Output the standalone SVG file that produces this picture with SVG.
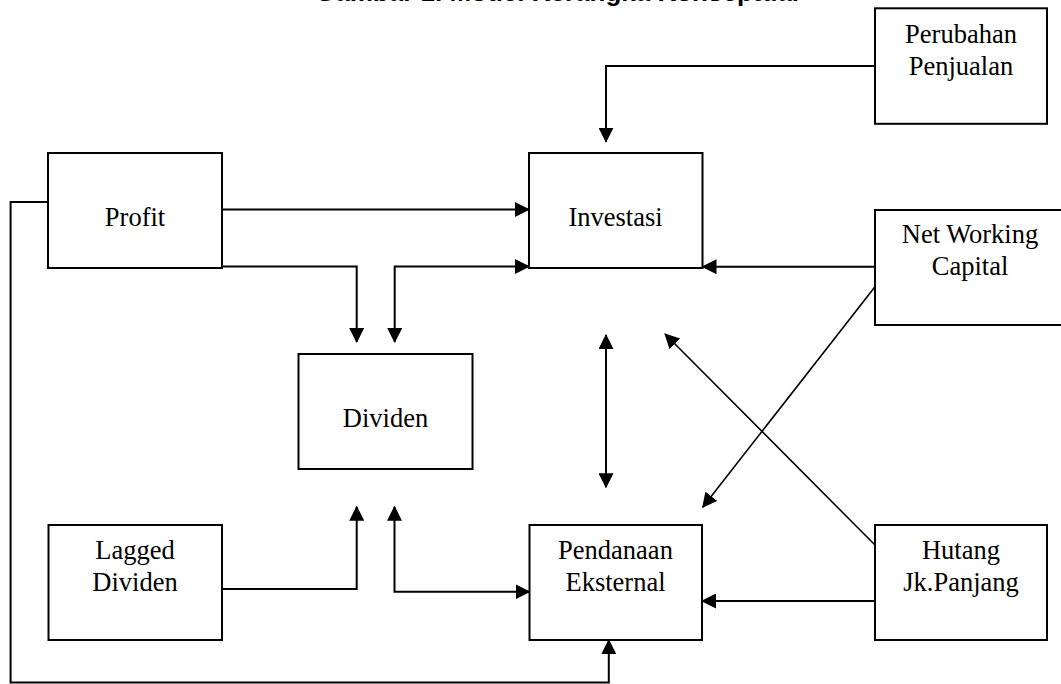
<svg xmlns="http://www.w3.org/2000/svg" width="1061" height="684" viewBox="0 0 1061 684">
<style>
.box{fill:#fff;stroke:#000;stroke-width:2}
.lbl{font-family:"Liberation Serif","Times New Roman",serif;font-size:26.5px;fill:#000;text-anchor:middle}
.title{font-family:"Liberation Sans",Arial,sans-serif;font-size:26px;font-weight:bold;fill:#000}
.c{fill:none;stroke:#000;stroke-width:2}
.d{fill:none;stroke:#000;stroke-width:1.6}
</style>
<defs>
<marker id="ah" viewBox="0 0 15 15" markerWidth="15" markerHeight="15" markerUnits="userSpaceOnUse" refX="14" refY="7.5" orient="auto-start-reverse">
<path d="M0,0 L15,7.5 L0,15 Z" fill="#000"/>
</marker>
</defs>
<rect width="1061" height="684" fill="#fff"/>
<text class="title" x="315" y="0.5">Gambar 1. Model Kerangka Konseptual</text>
<g id="connectors">
<path class="c" d="M222,209.5 H529" marker-end="url(#ah)"/>
<path class="c" d="M222,266.5 H356.7 V342" marker-end="url(#ah)"/>
<path class="c" d="M394.7,342 V266.5 H529" marker-start="url(#ah)" marker-end="url(#ah)"/>
<path class="c" d="M875,66 H606 V141.7" marker-end="url(#ah)"/>
<path class="c" d="M875,266.7 H702.5" marker-end="url(#ah)"/>
<path class="c" d="M606,335 V487.3" marker-start="url(#ah)" marker-end="url(#ah)"/>
<path class="d" d="M875,545 L665,334" marker-end="url(#ah)"/>
<path class="d" d="M875,286.7 L702.7,507.3" marker-end="url(#ah)"/>
<path class="c" d="M222,589 H356.7 V506.7" marker-end="url(#ah)"/>
<path class="c" d="M394.5,506.7 V591.7 H529.5" marker-start="url(#ah)" marker-end="url(#ah)"/>
<path class="c" d="M875,601 H702" marker-end="url(#ah)"/>
<path class="c" d="M48,202 H10.6 V682.5 H608.8 V640" marker-end="url(#ah)"/>
</g>
<g id="profit"><rect class="box" x="48" y="153" width="174" height="115"/><text class="lbl" x="135" y="226">Profit</text></g>
<g id="investasi"><rect class="box" x="529" y="153" width="173.5" height="115"/><text class="lbl" x="615.5" y="226">Investasi</text></g>
<g id="perubahan-penjualan"><rect class="box" x="875" y="8.3" width="172" height="115.5"/><text class="lbl" x="961" y="43">Perubahan</text><text class="lbl" x="961" y="75">Penjualan</text></g>
<g id="net-working-capital"><rect class="box" x="875" y="210" width="190" height="115"/><text class="lbl" x="970" y="243">Net Working</text><text class="lbl" x="970" y="275">Capital</text></g>
<g id="dividen"><rect class="box" x="298.5" y="354" width="174" height="115"/><text class="lbl" x="385.5" y="427">Dividen</text></g>
<g id="lagged-dividen"><rect class="box" x="48.5" y="525" width="173.5" height="115"/><text class="lbl" x="135" y="559">Lagged</text><text class="lbl" x="135" y="591">Dividen</text></g>
<g id="pendanaan-eksternal"><rect class="box" x="529.5" y="525" width="172.5" height="115"/><text class="lbl" x="615.5" y="559">Pendanaan</text><text class="lbl" x="615.5" y="591">Eksternal</text></g>
<g id="hutang-jk-panjang"><rect class="box" x="875" y="525" width="172" height="115"/><text class="lbl" x="961" y="559">Hutang</text><text class="lbl" x="961" y="591">Jk.Panjang</text></g>
</svg>
